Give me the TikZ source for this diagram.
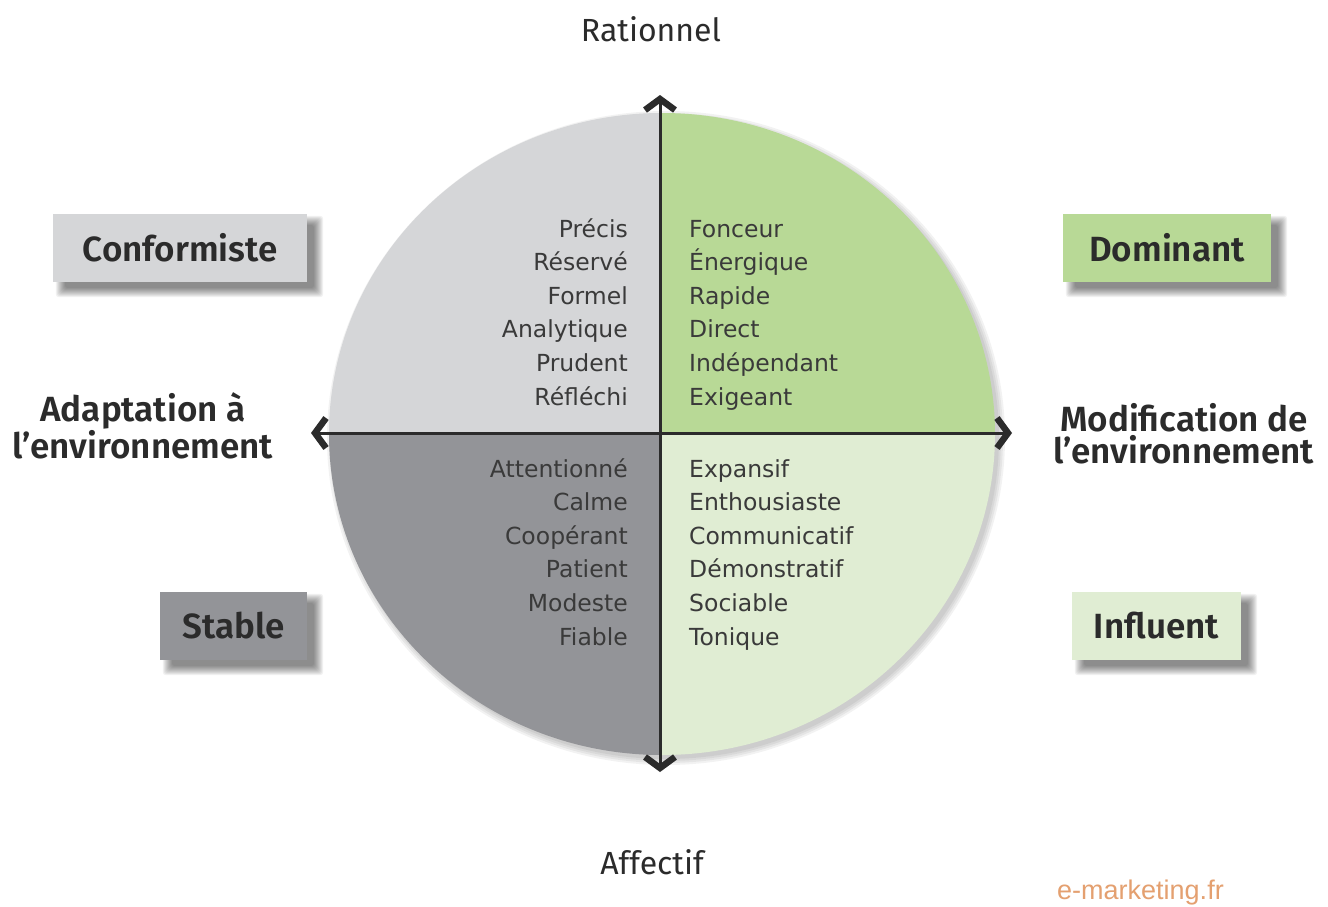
\documentclass[tikz,border=0pt]{standalone}
\usepackage{fontspec}
\setmainfont{Fira Sans}[BoldFont={Fira Sans SemiBold}]
\newfontfamily\wordfont{DejaVu Sans}
\newfontfamily\brandfont{Liberation Sans}
\usetikzlibrary{arrows.meta,calc,backgrounds}
\definecolor{qTL}{HTML}{D5D6D8}
\definecolor{qTR}{HTML}{B8D996}
\definecolor{qBL}{HTML}{939498}
\definecolor{qBR}{HTML}{E0EDD3}
\definecolor{ink}{HTML}{2B2B2B}
\definecolor{wordink}{HTML}{3A3A3A}
\definecolor{brand}{HTML}{E4A070}
\tikzset{chev/.tip={Straight Barb[length=11pt,width=30pt,line width=6.5pt]}}
\begin{document}
\begin{tikzpicture}[x=1pt,y=-1pt,
  axis/.style={line width=3pt, draw=ink, chev-chev},
  word/.style={text=wordink, font=\wordfont\fontsize{23.5}{24}\selectfont, inner sep=0pt},
  wl/.style={word, anchor=base east},
  wr/.style={word, anchor=base west},
  catbox/.style={font=\fontsize{35}{35}\selectfont\bfseries, text=ink, minimum height=68pt, inner sep=0pt},
  axlabel/.style={font=\fontsize{35}{32}\selectfont\bfseries, text=ink, align=center, inner sep=0pt},
  toplabel/.style={font=\fontsize{32}{32}\selectfont, text=ink, inner sep=0pt, anchor=base},
]
\useasboundingbox (0,0) rectangle (1328,906);

% circle shadow
\foreach \e in {0,2,4,6}
  \fill[black,opacity=0.05] (666,438) ellipse [x radius=333+\e, y radius=321+\e];

% quadrants
\begin{scope}
  \clip (662,434) ellipse [x radius=333, y radius=321];
  \fill[qTL] (300,80) rectangle (660,433);
  \fill[qTR] (660,80) rectangle (1020,433);
  \fill[qBL] (300,433) rectangle (660,790);
  \fill[qBR] (660,433) rectangle (1020,790);
\end{scope}

% axes
\coordinate (top) at (660,95);
\coordinate (bot) at (660,772);
\coordinate (lft) at (311,433);
\coordinate (rgt) at (1012,433);
\draw[axis] (bot) -- (top);
\draw[axis] (lft) -- (rgt);

% axis labels
\node[toplabel] (rat) at (651,41) {Rationnel};
\node[toplabel] (aff) at (652,874) {Affectif};
\node[axlabel] (adapt) at (143,426) {Adaptation à\\l’environnement};
\node[axlabel] (modif) at (1184,434) {Modification de\\l’environnement};

% word lists
\foreach \w [count=\i] in {Précis,Réservé,Formel,Analytique,Prudent,Réfléchi}
  \node[wl] (tl\i) at (628,{237+33.6*(\i-1)}) {\w};
\foreach \w [count=\i] in {Fonceur,Énergique,Rapide,Direct,Indépendant,Exigeant}
  \node[wr] (tr\i) at (689,{237+33.6*(\i-1)}) {\w};
\foreach \w [count=\i] in {Attentionné,Calme,Coopérant,Patient,Modeste,Fiable}
  \node[wl] (bl\i) at (628,{477+33.6*(\i-1)}) {\w};
\foreach \w [count=\i] in {Expansif,Enthousiaste,Communicatif,Démonstratif,Sociable,Tonique}
  \node[wr] (br\i) at (689,{477+33.6*(\i-1)}) {\w};

% category boxes
\node[catbox, fill=qTL, minimum width=254pt] (conf) at (180,248) {Conformiste};
\node[catbox, fill=qTR, minimum width=208pt] (dom) at (1167,248) {Dominant};
\node[catbox, fill=qBL, minimum width=147pt] (stab) at (233.5,626) {Stable};
\node[catbox, fill=qBR, minimum width=169pt] (infl) at (1156.5,626) {Influent};

\begin{scope}[on background layer]
\fill[white] (0,0) rectangle (1328,906);
\foreach \b in {conf,dom,stab,infl}{
  \foreach \e in {-2,-1,...,7}
    \fill[black,opacity=0.055, rounded corners=3pt]
      ($(\b.north west)+(10-\e,9-\e)$) rectangle ($(\b.south east)+(9+\e,8+\e)$);
}
\end{scope}

\node[anchor=base west, inner sep=0pt, text=brand, font=\brandfont\fontsize{27}{27}\selectfont] (brand) at (1057,899) {e-marketing.fr};
\end{tikzpicture}
\end{document}
